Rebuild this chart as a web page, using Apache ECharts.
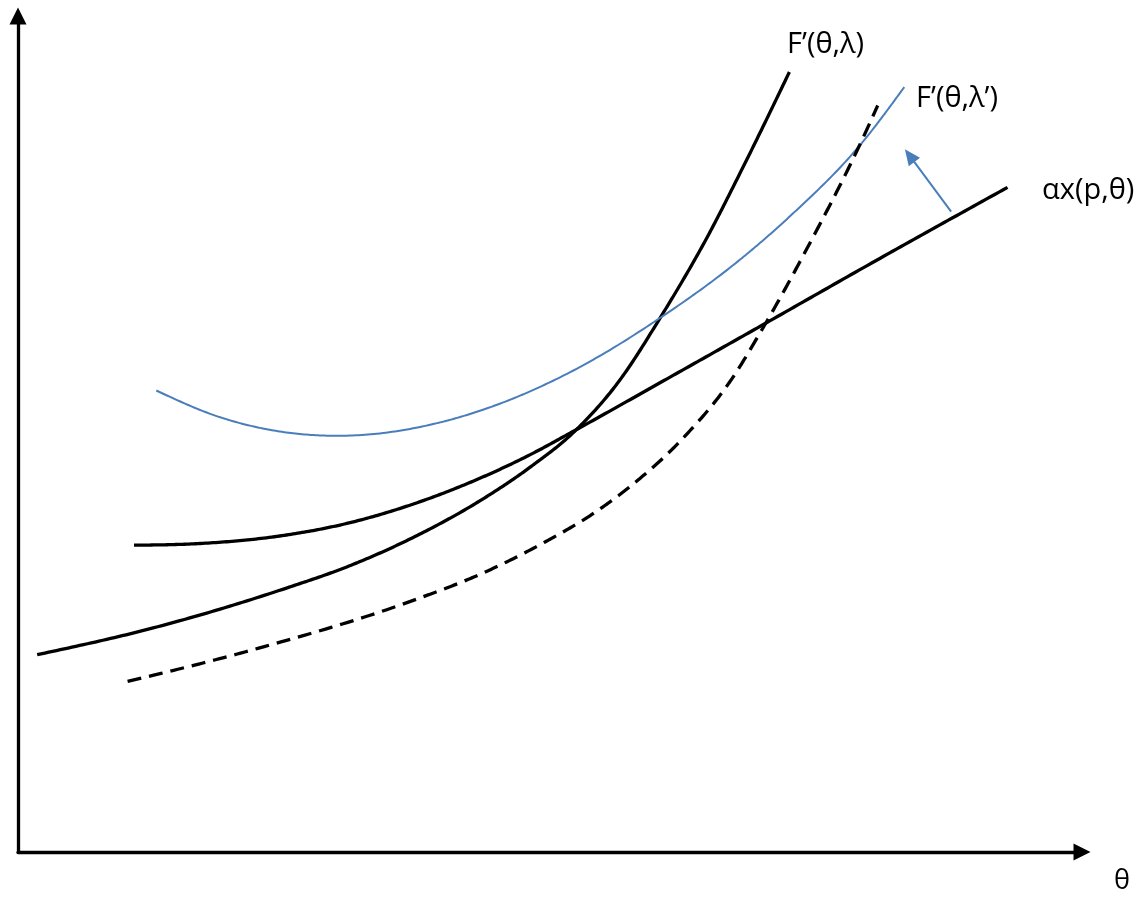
<!DOCTYPE html>
<html>
<head>
<meta charset="utf-8">
<script src="https://cdn.jsdelivr.net/npm/echarts@6/dist/echarts.min.js"></script>
<style>html,body{margin:0;padding:0;background:#fff}#c{width:1139px;height:898px}</style>
</head>
<body>
<div id="c"></div>
<script>
// Schematic values on a 0–100 scale for θ (x) and value (y)
const curveLambda = [[1.8,23.6],[12.7,26.8],[25.3,31.6],[30.9,34.1],[37.1,37.6],[43.4,42.0],[48.1,46.0],[52.3,50.3],[56.3,56.0],[60.6,64.4],[64.8,73.6],[67.9,81.3],[72.5,93.3]];
const curveAlphaX = [[10.9,36.7],[17.1,36.9],[24.6,37.8],[30.9,39.3],[37.1,41.6],[43.4,44.7],[48.1,47.5],[52.3,50.4],[61.0,56.6],[69.5,62.7],[81.0,71.0],[93.0,79.5]];
const curveLambdaPrime = [[13.0,55.2],[19.0,52.0],[24.6,50.3],[30.9,49.8],[39.4,51.3],[43.7,52.9],[51.6,57.2],[60.6,64.1],[67.9,70.9],[72.6,76.1],[79.3,84.8],[83.3,91.5]];
const curveDashed = [[10.3,20.4],[22.1,24.2],[37.8,30.4],[43.4,33.2],[49.7,37.2],[54.2,40.6],[57.8,44.0],[62.5,49.5],[67.2,56.8],[69.7,62.0],[74.2,72.3],[79.3,85.1],[80.8,89.3]];
const shiftArrow = [[87.7,76.6],[83.8,83.3]];
const labels = ["F’(θ,λ)", "F’(θ,λ’)", "αx(p,θ)", "θ"];

const chart = echarts.init(document.getElementById('c'));
const font = '"Open Sans", "DejaVu Sans", sans-serif';
const axisCommon = {
  type: 'value', min: 0, max: 100,
  axisLabel: {show: false}, axisTick: {show: false}, splitLine: {show: false},
  axisLine: {show: true, onZero: false, symbol: ['none', 'triangle'], symbolSize: [17, 17], lineStyle: {color: '#000', width: 3.3}}
};

// Cubic Hermite spline (non-uniform finite-difference tangents) through the mapped points
function spline(pts) {
  const n = pts.length, h = [], d = [], m = [];
  for (let i = 0; i < n - 1; i++) {
    h.push(pts[i + 1][0] - pts[i][0]);
    d.push((pts[i + 1][1] - pts[i][1]) / h[i]);
  }
  for (let i = 1; i < n - 1; i++) m[i] = (d[i - 1] * h[i] + d[i] * h[i - 1]) / (h[i - 1] + h[i]);
  m[0] = (3 * d[0] - m[1]) / 2;
  m[n - 1] = (3 * d[n - 2] - m[n - 2]) / 2;
  const out = [];
  for (let i = 0; i < n - 1; i++) {
    const steps = 30;
    for (let s = 0; s < steps; s++) {
      const t = s / steps, t2 = t * t, t3 = t2 * t;
      const y = (2 * t3 - 3 * t2 + 1) * pts[i][1] + (t3 - 2 * t2 + t) * h[i] * m[i]
        + (-2 * t3 + 3 * t2) * pts[i + 1][1] + (t3 - t2) * h[i] * m[i + 1];
      out.push([pts[i][0] + t * h[i], y]);
    }
  }
  out.push(pts[n - 1]);
  return out;
}
function curveSeries(values, color, width, dash) {
  return {
    type: 'custom', coordinateSystem: 'cartesian2d', silent: true,
    data: [values[0]],
    renderItem: function (params, api) {
      const pts = values.map(v => api.coord(v));
      return {type: 'polyline', shape: {points: spline(pts)},
        style: {stroke: color, lineWidth: width, fill: null, lineDash: dash || null, lineCap: 'butt', lineJoin: 'round'}};
    }
  };
}
chart.setOption({
  animation: false,
  backgroundColor: '#fff',
  grid: {left: 18, right: 57, top: 16, bottom: 46},
  xAxis: Object.assign({}, axisCommon),
  yAxis: Object.assign({}, axisCommon),
  series: [
    curveSeries(curveLambda, '#000', 3.3),
    curveSeries(curveAlphaX, '#000', 3.3),
    curveSeries(curveLambdaPrime, '#4a7ebb', 2),
    curveSeries(curveDashed, '#000', 3.3, [14, 8]),
    {type: 'line', data: [], symbol: 'none', silent: true,
      markLine: {silent: true, symbol: ['none', 'triangle'], symbolSize: [14, 16],
        label: {show: false},
        lineStyle: {color: '#4a7ebb', width: 2, type: 'solid'},
        data: [[{coord: shiftArrow[0]}, {coord: shiftArrow[1]}]]}}
  ],
  graphic: [
    {type: 'text', left: 787, top: 30, style: {text: labels[0], font: '29px ' + font, fill: '#000'}},
    {type: 'text', left: 916, top: 84, style: {text: labels[1], font: '29px ' + font, fill: '#000'}},
    {type: 'text', left: 1042, top: 176, style: {text: labels[2], font: '29px ' + font, fill: '#000'}},
    {type: 'text', left: 1114, top: 868, style: {text: labels[3], font: '27px ' + font, fill: '#000'}}
  ]
});
</script>
</body>
</html>
